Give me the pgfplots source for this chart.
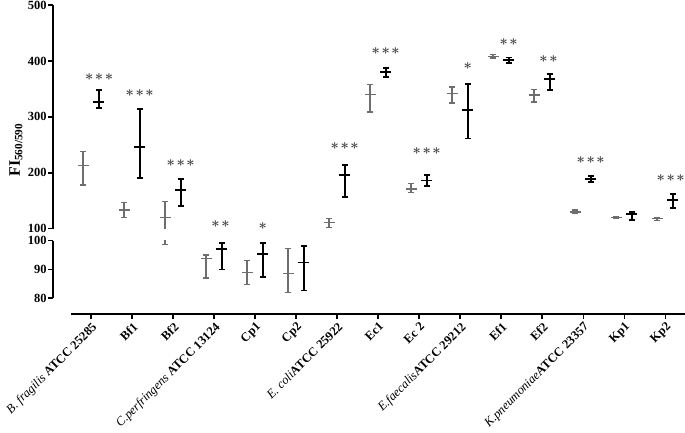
\documentclass[border=0pt]{standalone}
\usepackage{pgfplots}
\usepackage{pgfplotstable}
\usepackage{amsmath}
\pgfplotsset{compat=1.18}
\usepackage{fontspec}
\setmainfont{Liberation Serif}
\definecolor{gser}{HTML}{6E6E6E}
\definecolor{starc}{HTML}{444444}

\pgfplotstableread{
i g gh gl b bh bl
0 212.5 237.5 178 326.8 347.7 316
1 133.4 147 120 246.4 314 191
2 119.6 149 98.8 169 188.8 141
3 93.9 95 87 97.1 99.3 90
4 89 93.1 84.7 95.4 99.1 87.4
5 88.5 97.2 82.1 92.4 98.2 82.7
6 110.7 118.6 102.5 195.9 213.8 157
7 340.5 357.9 308.9 380.4 387 371.4
8 171 180.4 164.3 186.4 195.9 176
9 341.8 353.6 325 312 359 261.4
10 408.4 411.4 405.4 401.3 406 396.4
11 338.8 349.5 326.8 367.3 376.3 347.7
12 129.8 133.4 126.8 189.3 194.6 183.4
13 120.4 121.6 118.8 125.7 130.4 115.5
14 117.9 120.4 114.3 151.3 162 136.4
}\data

\pgfplotstableread{
x y n
0.19 371 3
1.18 343 3
2.18 218 3
3.15 109 2
4.18 105.4 1
6.18 248 3
7.18 418 3
8.18 238 3
9.18 391.5 1
10.18 434 2
11.15 404 2
12.18 223 3
14.13 191 3
}\stardata

\newcommand\st{\(\boldsymbol\ast\)}
\newcommand\stars[1]{\ifcase#1\or\st\or\st\kern1.6pt\st\or\st\kern1.6pt\st\kern1.6pt\st\fi}

\pgfplotsset{
  seg/.style={scale only axis, width=632pt, xmin=-0.934, xmax=14.48,
    axis x line=none, axis y line*=left,
    y axis line style={line width=1.6pt},
    ytick style={line width=1.6pt, black},
    tick align=outside, major tick length=5pt,
    yticklabel style={font=\bfseries\fontsize{12.5}{14}\selectfont, inner sep=1.2pt},
    clip=true},
  gstyle/.style={gser, only marks, mark=-, mark size=5.5pt,
    mark options={line width=1.3pt, gser},
    error bars/.cd, y dir=both, y explicit, error mark=|,
    error mark options={gser, mark size=3pt, line width=1.3pt},
    error bar style={line width=1.3pt, gser}},
  bstyle/.style={black, only marks, mark=-, mark size=5.5pt,
    mark options={line width=1.7pt, black},
    error bars/.cd, y dir=both, y explicit, error mark=|,
    error mark options={black, mark size=3pt, line width=1.7pt},
    error bar style={line width=1.7pt, black}},
}

\newcommand\plotdata[1]{%
  \addplot[#1, gstyle] table[x expr=\thisrow{i}-0.2, y=g,
    y error plus expr=\thisrow{gh}-\thisrow{g},
    y error minus expr=\thisrow{g}-\thisrow{gl}] {\data};
  \addplot[#1, bstyle] table[x expr=\thisrow{i}+0.185, y=b,
    y error plus expr=\thisrow{bh}-\thisrow{b},
    y error minus expr=\thisrow{b}-\thisrow{bl}] {\data};
}

\begin{document}
\begin{tikzpicture}
\useasboundingbox (0,0) rectangle (685pt,433pt);

% upper segment
\begin{axis}[seg, at={(53pt,204.3pt)}, anchor=south west, height=223.7pt,
  ymin=100, ymax=500, ytick={100,200,300,400,500},
  yticklabels={\textbf{100},\textbf{200},\textbf{300},\textbf{400},\textbf{500}}]
\plotdata{restrict y to domain=100:500}
\addplot[draw=none, mark=none, nodes near coords={\stars{\pgfplotspointmeta}},
  point meta=explicit symbolic,
  nodes near coords style={anchor=center, inner sep=0pt, text=starc,
    font=\fontsize{14}{14}\selectfont}]
  table[x=x, y=y, meta=n] {\stardata};
\end{axis}

% lower segment
\begin{axis}[seg, at={(53pt,134.7pt)}, anchor=south west, height=57.6pt,
  ymin=80, ymax=100, ytick={80,90,100},
  yticklabels={\textbf{80},\textbf{90},\textbf{100}}]
\plotdata{}
\end{axis}

% category axis
\begin{axis}[at={(70.7pt,118.7pt)}, anchor=south west, scale only axis,
  width=614.3pt, height=10pt, xmin=-0.5, xmax=14.48, ymin=0, ymax=1,
  axis x line*=bottom, axis y line=none,
  x axis line style={line width=1.6pt},
  xtick={0,...,14}, xtick style={line width=1.6pt, black},
  tick align=outside, major tick length=5pt,
  xticklabel style={rotate=45, anchor=north east, inner sep=1.5pt,
    font=\fontsize{12.5}{14}\selectfont},
  xticklabels={{\textit{B. fragilis} \textbf{ATCC 25285}}, \textbf{Bf1}, \textbf{Bf2},
    {\textit{C.perfringens} \textbf{ATCC 13124}}, \textbf{Cp1}, \textbf{Cp2},
    {\textit{E. coli}\textbf{ATCC 25922}}, \textbf{Ec1}, \textbf{Ec 2},
    {\textit{E.faecalis}\textbf{ATCC 29212}}, \textbf{Ef1}, \textbf{Ef2},
    {\textit{K.pneumoniae}\textbf{ATCC 23357}}, \textbf{Kp1}, \textbf{Kp2}}]
\end{axis}

\node[rotate=90, font=\bfseries\fontsize{16}{18}\selectfont] at (16pt,283pt)
  {FI\textsubscript{560/590}};
\end{tikzpicture}
\end{document}
